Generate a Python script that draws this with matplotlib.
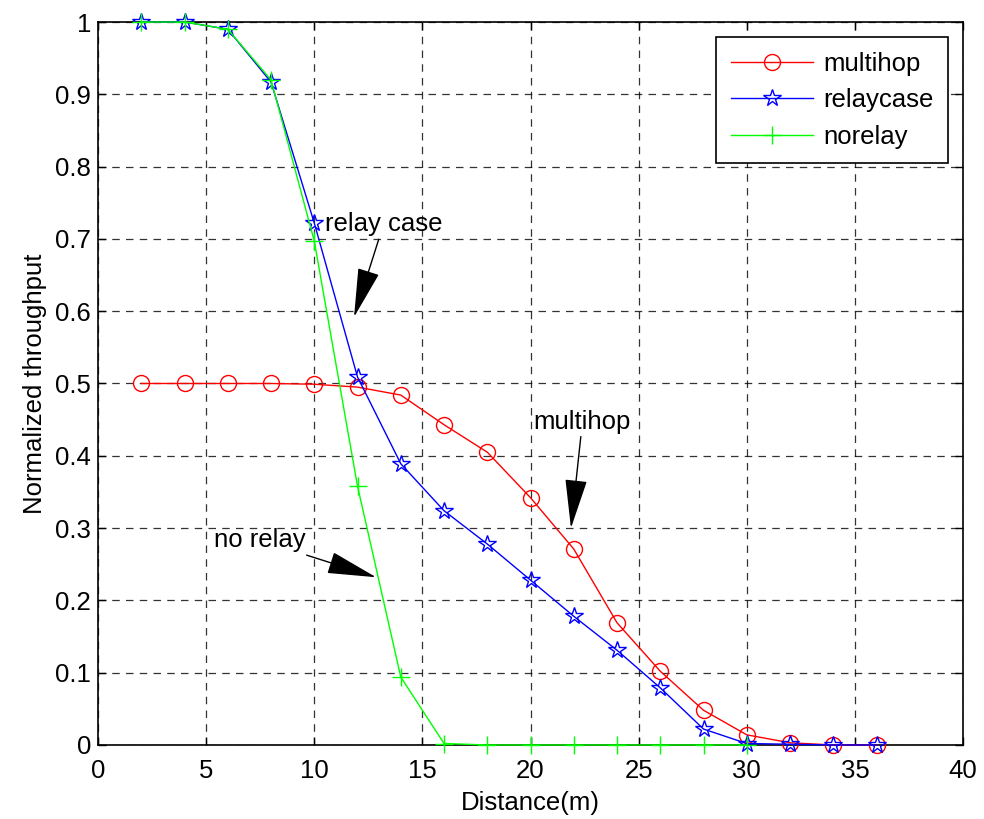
import matplotlib
matplotlib.use("Agg")
import matplotlib.pyplot as plt

plt.rcParams['font.family'] = ['Liberation Sans', 'DejaVu Sans']

distance = [2, 4, 6, 8, 10, 12, 14, 16, 18, 20, 22, 24, 26, 28, 30, 32, 34, 36]
multihop = [0.5, 0.5, 0.5, 0.5, 0.499, 0.495, 0.484, 0.443, 0.405, 0.342,
            0.271, 0.169, 0.102, 0.048, 0.014, 0.003, 0.0, 0.0]
relaycase = [1.0, 1.0, 0.99, 0.917, 0.722, 0.509, 0.389, 0.324, 0.278, 0.228,
             0.178, 0.131, 0.079, 0.022, 0.002, 0.001, 0.0, 0.0]
distance_norelay = [2, 4, 6, 8, 10, 12, 14, 16, 18, 20, 22, 24, 26, 28, 30]
norelay = [1.0, 1.0, 0.99, 0.92, 0.697, 0.358, 0.094, 0.002, 0.0, 0.0,
           0.0, 0.0, 0.0, 0.0, 0.0]

xticks = [0, 5, 10, 15, 20, 25, 30, 35, 40]
yticks = [0, 0.1, 0.2, 0.3, 0.4, 0.5, 0.6, 0.7, 0.8, 0.9, 1]
ytick_labels = ['0', '0.1', '0.2', '0.3', '0.4', '0.5', '0.6', '0.7', '0.8', '0.9', '1']

FS = 18.5

fig = plt.figure(figsize=(9.84, 8.19), dpi=100)
ax = fig.add_axes([0.0996, 0.0904, 0.8791, 0.8827])

ax.plot(distance, multihop, color='red', lw=1, marker='o', ms=11.5,
        mfc='none', mec='red', mew=1, label='multihop', zorder=3,
        clip_on=False)
ax.plot(distance, relaycase, color='blue', lw=1, marker='*', ms=13,
        mfc='none', mec='blue', mew=1, label='relaycase', zorder=4,
        clip_on=False)
ax.plot(distance_norelay, norelay, color='#00ff00', lw=1, marker='+', ms=13,
        mec='#00ff00', mew=1, label='norelay', zorder=5, clip_on=False)

ax.set_xlim(0, 40)
ax.set_ylim(0, 1)
ax.set_xticks(xticks)
ax.set_yticks(yticks)
ax.set_yticklabels(ytick_labels)
ax.tick_params(direction='in', top=True, right=True, labelsize=FS, length=6,
               width=1)
ax.tick_params(axis='x', pad=10)
ax.tick_params(axis='y', pad=5)
for s in ax.spines.values():
    s.set_linewidth(1.2)
ax.grid(True, color='black', linestyle=(0, (6, 5)), linewidth=0.9, alpha=0.8)
ax.set_axisbelow(True)

ax.set_xlabel('Distance(m)', fontsize=FS, labelpad=6)
ax.set_ylabel('Normalized throughput', fontsize=FS, labelpad=6)

arrow = dict(arrowstyle='-|>,head_length=1.7,head_width=0.38', color='black',
             lw=1, shrinkA=0, shrinkB=0)
ax.annotate('relay case', xy=(11.84, 0.592), xytext=(13.2, 0.72),
            fontsize=FS, ha='center', va='center', arrowprops=arrow,
            zorder=6)
ax.annotate('multihop', xy=(21.87, 0.300), xytext=(22.4, 0.447),
            fontsize=FS, ha='center', va='center', arrowprops=arrow,
            zorder=6)
ax.annotate('no relay', xy=(12.86, 0.232), xytext=(7.5, 0.283),
            fontsize=FS, ha='center', va='center', arrowprops=arrow,
            zorder=6)

leg = ax.legend(loc='upper right', fontsize=FS, frameon=True, fancybox=False,
                edgecolor='black', framealpha=1, handlelength=3.2,
                handletextpad=0.4, borderaxespad=0.6, labelspacing=0.5,
                borderpad=0.55)
leg.get_frame().set_linewidth(1.2)
leg.set_zorder(10)

fig.savefig('out.png', dpi=100)
